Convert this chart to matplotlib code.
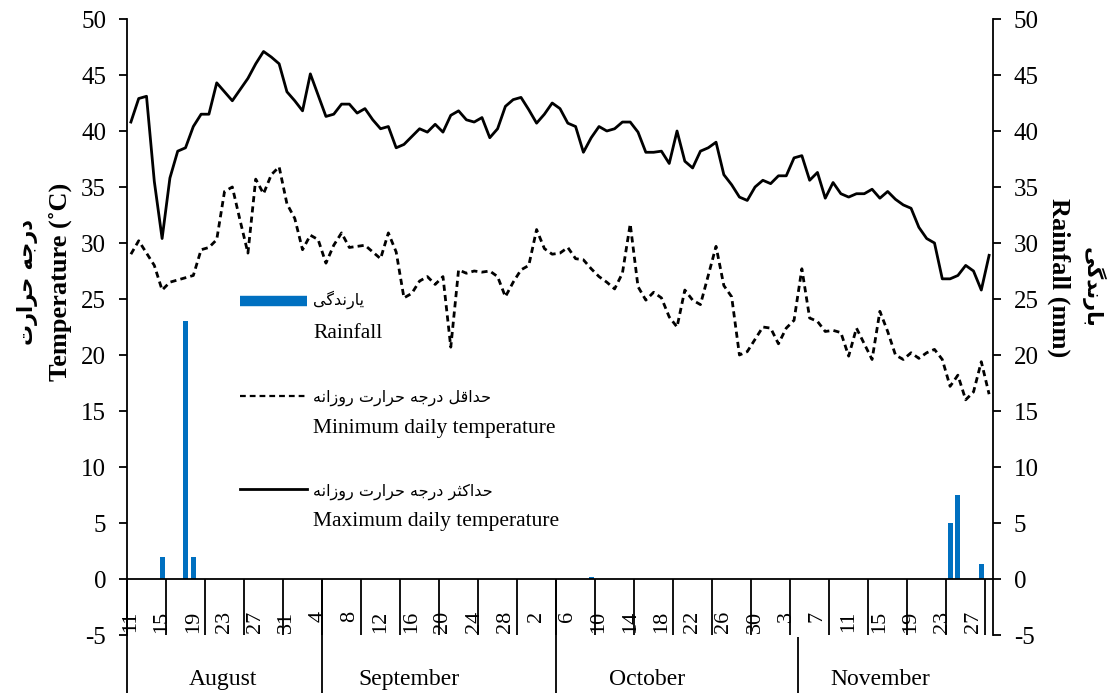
import matplotlib
matplotlib.use("Agg")
import matplotlib.pyplot as plt

# =========================
# DATA (Aug 11 - Nov 29, one value per day)
# =========================
tmax = [40.8, 42.9, 43.1, 35.5, 30.4, 35.8, 38.2, 38.5, 40.4, 41.5,
        41.5, 44.3, 43.5, 42.7, 43.7, 44.7, 46.0, 47.1, 46.6, 46.0,
        43.5, 42.7, 41.8, 45.1, 43.2, 41.3, 41.5, 42.4, 42.4, 41.6,
        42.0, 41.0, 40.2, 40.4, 38.5, 38.8, 39.5, 40.2, 39.9, 40.6,
        39.9, 41.4, 41.8, 41.0, 40.8, 41.2, 39.4, 40.2, 42.2, 42.8,
        43.0, 41.9, 40.7, 41.5, 42.5, 42.0, 40.7, 40.4, 38.1, 39.4,
        40.4, 40.0, 40.2, 40.8, 40.8, 39.9, 38.1, 38.1, 38.2, 37.1,
        40.0, 37.3, 36.7, 38.2, 38.5, 39.0, 36.1, 35.2, 34.1, 33.8,
        35.0, 35.6, 35.3, 36.0, 36.0, 37.6, 37.8, 35.6, 36.3, 34.0,
        35.4, 34.4, 34.1, 34.4, 34.4, 34.8, 34.0, 34.6, 33.9, 33.4,
        33.1, 31.4, 30.4, 30.0, 26.8, 26.8, 27.1, 28.0, 27.5, 25.8,
        28.9]

tmin = [29.0, 30.2, 29.1, 28.0, 25.8, 26.5, 26.7, 26.9, 27.1, 29.4,
        29.6, 30.3, 34.6, 35.0, 32.0, 29.1, 35.7, 34.4, 36.1, 36.8,
        33.5, 32.2, 29.4, 30.7, 30.3, 28.2, 29.8, 30.9, 29.6, 29.7,
        29.8, 29.2, 28.6, 30.9, 29.2, 25.1, 25.5, 26.6, 27.0, 26.3,
        27.0, 20.7, 27.6, 27.3, 27.5, 27.4, 27.5, 27.0, 25.2, 26.5,
        27.6, 28.0, 31.2, 29.5, 29.0, 29.1, 29.6, 28.6, 28.5, 27.7,
        27.0, 26.5, 25.9, 27.3, 31.7, 26.1, 24.9, 25.6, 25.1, 23.4,
        22.5, 25.8, 24.9, 24.5, 27.1, 29.7, 26.2, 25.2, 20.0, 20.3,
        21.4, 22.5, 22.4, 21.0, 22.4, 23.1, 27.7, 23.3, 23.0, 22.1,
        22.2, 22.0, 19.9, 22.4, 21.0, 19.6, 23.9, 22.1, 20.0, 19.6,
        20.2, 19.7, 20.2, 20.5, 19.6, 17.2, 18.2, 16.0, 16.7, 19.4,
        16.5]

rain_day = [4, 7, 8, 59, 105, 106, 109]
rain_mm = [2.0, 23.0, 2.0, 0.2, 5.0, 7.5, 1.3]

day_labels = ["11", "15", "19", "23", "27", "31", "4", "8", "12", "16", "20",
              "24", "28", "2", "6", "10", "14", "18", "22", "26", "30", "3",
              "7", "11", "15", "19", "23", "27"]
months = ["August", "September", "October", "November"]
month_pos = [11.8, 35.6, 66.1, 96.0]
month_sep = [24.5, 54.5]
month_sep_short = [85.5]

days = list(range(len(tmax)))

# =========================
# PERSIAN TEXT (manual shaping, matplotlib has no bidi)
# =========================
FORMS = {
    "\u0627": ("\uFE8D", "\uFE8E", None, None),
    "\u0628": ("\uFE8F", "\uFE90", "\uFE91", "\uFE92"),
    "\u062A": ("\uFE95", "\uFE96", "\uFE97", "\uFE98"),
    "\u062B": ("\uFE99", "\uFE9A", "\uFE9B", "\uFE9C"),
    "\u062C": ("\uFE9D", "\uFE9E", "\uFE9F", "\uFEA0"),
    "\u062D": ("\uFEA1", "\uFEA2", "\uFEA3", "\uFEA4"),
    "\u062F": ("\uFEA9", "\uFEAA", None, None),
    "\u0631": ("\uFEAD", "\uFEAE", None, None),
    "\u0632": ("\uFEAF", "\uFEB0", None, None),
    "\u0634": ("\uFEB5", "\uFEB6", "\uFEB7", "\uFEB8"),
    "\u0642": ("\uFED5", "\uFED6", "\uFED7", "\uFED8"),
    "\u0644": ("\uFEDD", "\uFEDE", "\uFEDF", "\uFEE0"),
    "\u0646": ("\uFEE5", "\uFEE6", "\uFEE7", "\uFEE8"),
    "\u0647": ("\uFEE9", "\uFEEA", "\uFEEB", "\uFEEC"),
    "\u0648": ("\uFEED", "\uFEEE", None, None),
    "\u06A9": ("\uFB8E", "\uFB8F", "\uFB90", "\uFB91"),
    "\u06AF": ("\uFB92", "\uFB93", "\uFB94", "\uFB95"),
    "\u06CC": ("\uFBFC", "\uFBFD", "\uFBFE", "\uFBFF"),
}


def fa(text):
    out = []
    for k, c in enumerate(text):
        if c not in FORMS:
            out.append(c)
            continue
        prev = text[k - 1] if k > 0 else ""
        nxt = text[k + 1] if k + 1 < len(text) else ""
        join_prev = prev in FORMS and FORMS[prev][2] is not None
        join_next = FORMS[c][2] is not None and nxt in FORMS
        f = FORMS[c]
        if join_prev and join_next:
            out.append(f[3])
        elif join_prev:
            out.append(f[1])
        elif join_next:
            out.append(f[2])
        else:
            out.append(f[0])
    return "".join(out)[::-1]


plt.rcParams["font.family"] = ["Liberation Serif", "DejaVu Sans"]
plt.rcParams["axes.unicode_minus"] = False
FA_FONT = ["DejaVu Sans"]

# =========================
# PLOT
# =========================
fig = plt.figure(figsize=(11.09, 6.93), dpi=100)
ax = fig.add_axes([127 / 1109, 58 / 693, 866 / 1109, 616 / 693])

ax.bar(rain_day, rain_mm, width=0.62, color="#0070C0", zorder=2)
ax.plot(days, tmin, color="black", lw=2.0, linestyle=(0, (2.2, 1.5)), zorder=3)
ax.plot(days, tmax, color="black", lw=2.0, zorder=3)

ax.set_xlim(-0.5, len(days) - 0.5)
ax.set_ylim(-5, 50)
ax.set_yticks(range(-5, 51, 5))
ax.set_xticks([])
ax.tick_params(axis="y", which="both", direction="out", length=6, width=1.3,
               pad=9, labelsize=18, left=True, right=True, labelright=True)
for s in ["top", "bottom"]:
    ax.spines[s].set_visible(False)
for s in ["left", "right"]:
    ax.spines[s].set_linewidth(1.3)

# zero line and category tick marks
ax.axhline(0, color="black", lw=1.3, zorder=4)
ax.vlines([b - 0.5 for b in range(0, len(days), 5)], -5, 0, color="black", lw=1.3)
for k, lab in enumerate(day_labels):
    ax.text(k * 4, -2.86, lab, rotation=90, ha="center", va="top", fontsize=16)

# month row
ax.vlines([-0.5] + month_sep, -11, 0, color="black", lw=1.3, clip_on=False)
ax.vlines(month_sep_short, -11, -5.2, color="black", lw=1.3, clip_on=False)
for m, p in zip(months, month_pos):
    ax.text(p, -9.0, m, ha="center", va="center", fontsize=17, clip_on=False)

# axis titles
fig.text(60 / 1109, 1 - 282 / 693, "Temperature (\u02daC)", rotation=90, fontsize=19,
         fontweight="bold", ha="center", va="center")
fig.text(28 / 1109, 1 - 282 / 693, fa("درجه حرارت"), rotation=90, fontsize=15,
         fontweight="bold", ha="center", va="center", family=FA_FONT)
fig.text(1059 / 1109, 1 - 278 / 693, "Rainfall (mm)", rotation=270, fontsize=19,
         fontweight="bold", ha="center", va="center")
fig.text(1093 / 1109, 1 - 287 / 693, fa("بارندگی"), rotation=270, fontsize=15,
         fontweight="bold", ha="center", va="center", family=FA_FONT)

# legend
T = ax.transAxes
hx0, hx1, tx = 0.1305, 0.2079, 0.2148
ax.plot([hx0, hx1], [0.542, 0.542], transform=T, color="#0070C0", lw=7.5,
        solid_capstyle="butt")
ax.plot([hx0, hx1], [0.388, 0.388], transform=T, color="black", lw=1.6,
        linestyle=(0, (2.6, 1.8)))
ax.plot([hx0, hx1], [0.237, 0.237], transform=T, color="black", lw=2.0)
ax.text(tx, 0.544, fa("یارندگی"), transform=T, fontsize=11.5, va="center", family=FA_FONT)
ax.text(tx, 0.490, "Rainfall", transform=T, fontsize=15.5, va="center")
ax.text(tx, 0.385, fa("حداقل درجه حرارت روزانه"), transform=T, fontsize=11.5,
        va="center", family=FA_FONT)
ax.text(tx, 0.336, "Minimum daily temperature", transform=T, fontsize=15.5, va="center")
ax.text(tx, 0.232, fa("حداکثر درجه حرارت روزانه"), transform=T, fontsize=11.5,
        va="center", family=FA_FONT)
ax.text(tx, 0.185, "Maximum daily temperature", transform=T, fontsize=15.5, va="center")

fig.savefig("out.png", dpi=100)
